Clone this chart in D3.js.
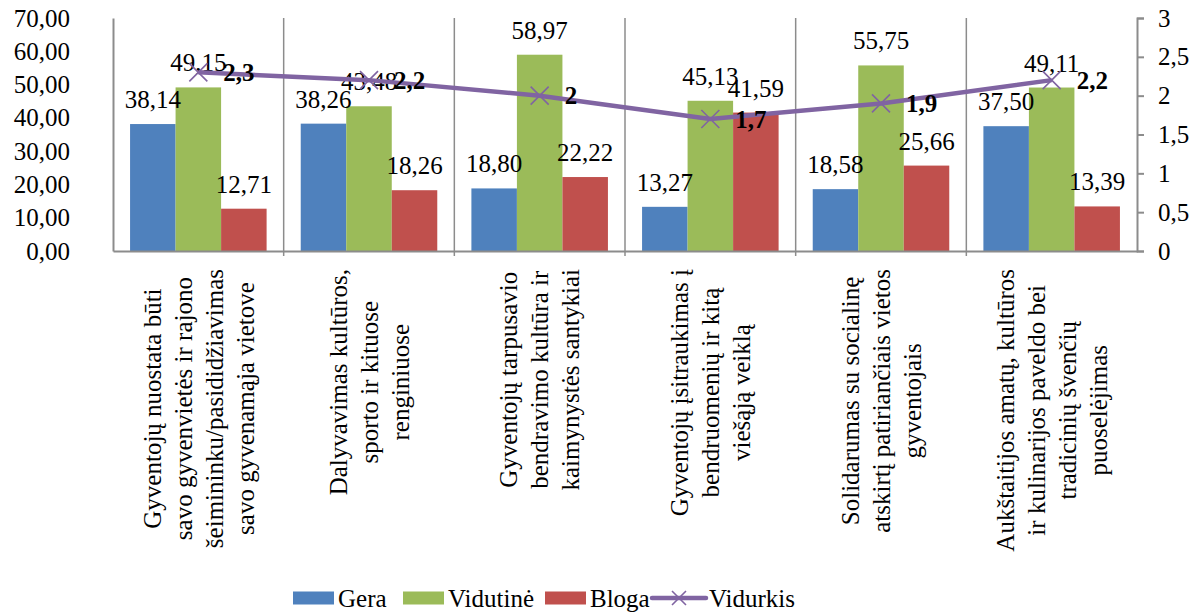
<!DOCTYPE html>
<html><head><meta charset="utf-8">
<script src="https://cdn.jsdelivr.net/npm/d3@7"></script>
<style>
html,body{margin:0;padding:0;background:#fff;}
svg{display:block;}
svg text{font-family:Tinos,"Liberation Serif","Times New Roman",serif;}
</style></head>
<body>
<svg id="c" width="1204" height="612"></svg>
<script>
const categories = [
  ["Gyventojų nuostata būti", "savo gyvenvietės ir rajono", "šeimininku/pasididžiavimas", "savo gyvenamąja vietove"],
  ["Dalyvavimas kultūros,", "sporto ir kituose", "renginiuose"],
  ["Gyventojų tarpusavio", "bendravimo kultūra ir", "kaimynystės santykiai"],
  ["Gyventojų įsitraukimas į", "bendruomenių ir kitą", "viešąją veiklą"],
  ["Solidarumas su socialinę", "atskirtį patiriančiais vietos", "gyventojais"],
  ["Aukštaitijos amatų, kultūros", "ir kulinarijos paveldo bei", "tradicinių švenčių", "puoselėjimas"]
];
const seriesNames = ["Gera", "Vidutinė", "Bloga"];
const gera = [38.14, 38.26, 18.80, 13.27, 18.58, 37.50];
const vidutine = [49.15, 43.48, 58.97, 45.13, 55.75, 49.11];
const bloga = [12.71, 18.26, 22.22, 41.59, 25.66, 13.39];
const lineName = "Vidurkis";
const vidurkis = [2.3, 2.2, 2, 1.7, 1.9, 2.2];
const leftTicks = [0, 10, 20, 30, 40, 50, 60, 70];
const rightTicks = [0, 0.5, 1, 1.5, 2, 2.5, 3];
const colors = ["#4F81BD", "#9BBB59", "#C0504D"];
const lineColor = "#8064A2";

const svg = d3.select("#c");
const FS = 25;
const txt = sel => sel.attr("font-size", FS).attr("fill", "#000");
const L = 113, R = 1137, T = 18, B = 251;
const x = d3.scaleBand().domain(d3.range(categories.length)).range([L, R]).padding(0);
const xs = d3.scaleBand().domain(seriesNames).range([0, x.bandwidth()]).paddingInner(0).paddingOuter(0.375);
const yL = d3.scaleLinear().domain([0, 70]).range([B, T]);
const yR = d3.scaleLinear().domain([0, 3]).range([B, T]);
const comma = s => s.replace(".", ",");

// separators (vertical gridlines at category boundaries)
svg.append("g").selectAll("line").data(d3.range(1, categories.length)).join("line")
  .attr("x1", d => x(d)).attr("x2", d => x(d)).attr("y1", T).attr("y2", B + 5)
  .attr("stroke", "#8c8c8c").attr("stroke-width", 1.5);

// bars
const seriesData = [gera, vidutine, bloga];
seriesData.forEach((vals, si) => {
  svg.append("g").selectAll("rect").data(vals).join("rect")
    .attr("x", (d, i) => x(i) + xs(seriesNames[si]))
    .attr("width", xs.bandwidth())
    .attr("y", d => yL(d))
    .attr("height", d => yL(0) - yL(d))
    .attr("fill", colors[si]);
});

// left axis
const axL = svg.append("g").attr("transform", `translate(${L},0)`)
  .call(d3.axisLeft(yL).tickValues(leftTicks).tickSize(0).tickPadding(43).tickFormat(d => comma(d3.format(".2f")(d))));
axL.attr("font-family", null).attr("font-size", FS);
axL.select(".domain").attr("stroke", "#8c8c8c").attr("stroke-width", 2);
axL.selectAll("text").call(txt);

// right axis
const axR = svg.append("g").attr("transform", `translate(${R},0)`)
  .call(d3.axisRight(yR).tickValues(rightTicks).tickSize(7).tickPadding(14).tickFormat(d => comma(String(d))));
axR.attr("font-family", null).attr("font-size", FS);
axR.select(".domain").attr("stroke", "#8c8c8c").attr("stroke-width", 2);
axR.selectAll(".tick line").attr("stroke", "#8c8c8c").attr("stroke-width", 2);
axR.selectAll("text").call(txt);

// bottom axis
const axB = svg.append("g").attr("transform", `translate(0,${B})`)
  .call(d3.axisBottom(x).tickValues([]).tickSizeOuter(0));
axB.attr("font-family", null);
axB.select(".domain").attr("stroke", "#8c8c8c").attr("stroke-width", 2);

// category labels
const lh = 31, labelTop = 269;
categories.forEach((lines, i) => {
  const cx = x(i) + x.bandwidth() / 2;
  const g = svg.append("g");
  const t = g.selectAll("text").data(lines).join("text").call(txt)
    .attr("text-anchor", "middle").attr("dy", "0.35em")
    .attr("x", 0).attr("y", (d, k) => (k - (lines.length - 1) / 2) * lh)
    .text(d => d);
  let maxLen = 0;
  t.each(function () { maxLen = Math.max(maxLen, this.getComputedTextLength()); });
  g.attr("transform", `translate(${cx},${labelTop + maxLen / 2}) rotate(-90)`);
});

// bar labels
seriesData.forEach((vals, si) => {
  svg.append("g").selectAll("text").data(vals).join("text").call(txt)
    .attr("x", (d, i) => x(i) + xs(seriesNames[si]) + xs.bandwidth() / 2)
    .attr("y", d => yL(d) - 16)
    .attr("text-anchor", "middle")
    .text(d => comma(d3.format(".2f")(d)));
});

// line
const cxOf = i => x(i) + x.bandwidth() / 2;
svg.append("path").datum(vidurkis)
  .attr("d", d3.line().x((d, i) => cxOf(i)).y(d => yR(d)))
  .attr("fill", "none").attr("stroke", lineColor).attr("stroke-width", 4.5).attr("stroke-linejoin", "round");
const ms = 9;
svg.append("g").selectAll("path").data(vidurkis).join("path")
  .attr("d", (d, i) => {
    const px = cxOf(i), py = yR(d);
    return `M${px - ms},${py - ms}L${px + ms},${py + ms}M${px - ms},${py + ms}L${px + ms},${py - ms}`;
  })
  .attr("stroke", lineColor).attr("stroke-width", 1.6).attr("fill", "none");
svg.append("g").selectAll("text").data(vidurkis).join("text").call(txt)
  .attr("x", (d, i) => cxOf(i) + 25).attr("y", d => yR(d)).attr("dy", "0.35em")
  .attr("font-weight", "bold")
  .text(d => comma(String(d)));

// legend
const leg = svg.append("g");
const ly = 598;
const swX = [293, 403, 545];
seriesNames.forEach((n, i) => {
  leg.append("rect").attr("x", swX[i]).attr("y", ly - 6.5).attr("width", 41).attr("height", 13).attr("fill", colors[i]);
  leg.append("text").call(txt).attr("x", swX[i] + 45).attr("y", ly).attr("dy", "0.35em").text(n);
});
leg.append("line").attr("x1", 652).attr("x2", 706).attr("y1", ly).attr("y2", ly)
  .attr("stroke", lineColor).attr("stroke-width", 4.5).attr("stroke-linecap", "round");
leg.append("path").attr("d", `M${679 - 7},${ly - 7}L${679 + 7},${ly + 7}M${679 - 7},${ly + 7}L${679 + 7},${ly - 7}`)
  .attr("stroke", lineColor).attr("stroke-width", 1.6);
leg.append("text").call(txt).attr("x", 709).attr("y", ly).attr("dy", "0.35em").text(lineName);
</script>
</body></html>
